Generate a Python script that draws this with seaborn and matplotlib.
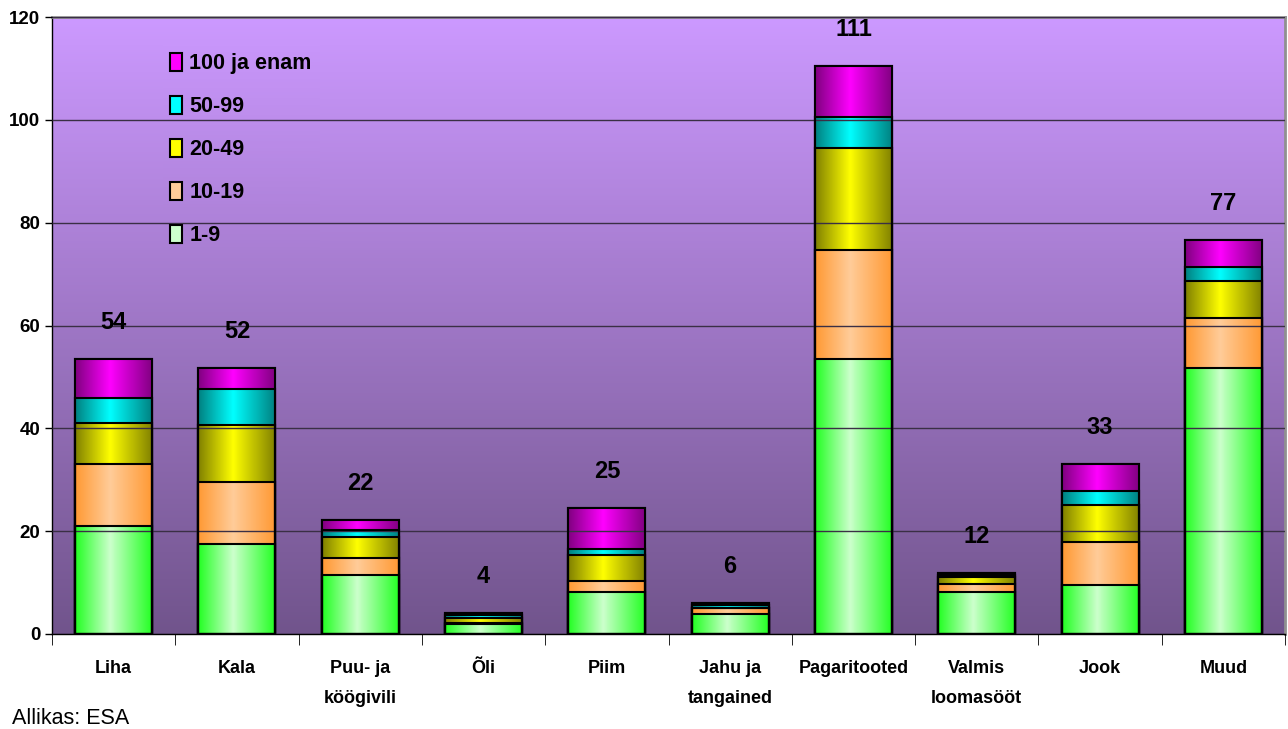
import numpy as np
import pandas as pd
import matplotlib
matplotlib.use("Agg")
import matplotlib.pyplot as plt
import seaborn as sns
from matplotlib.colors import LinearSegmentedColormap
from matplotlib.patches import Patch

# data (number of enterprises by size class)
categories = ["Liha", "Kala", "Puu- ja\nköögivili", "Õli", "Piim", "Jahu ja\ntangained",
              "Pagaritooted", "Valmis\nloomasööt", "Jook", "Muud"]
size_classes = ["1-9", "10-19", "20-49", "50-99", "100 ja enam"]
s_1_9 = [21.0, 17.5, 11.4, 1.9, 8.2, 3.9, 53.4, 8.2, 9.5, 51.8]
s_10_19 = [12.0, 12.0, 3.3, 0.2, 2.1, 1.1, 21.2, 1.6, 8.4, 9.6]
s_20_49 = [8.0, 11.1, 4.2, 1.0, 5.15, 0.1, 19.9, 1.2, 7.2, 7.2]
s_50_99 = [4.9, 7.1, 1.35, 0.6, 1.15, 0.6, 6.0, 0.5, 2.8, 2.8]
s_100 = [7.5, 4.0, 1.95, 0.3, 8.0, 0.3, 10.0, 0.4, 5.2, 5.3]
total_labels = [54, 52, 22, 4, 25, 6, 111, 12, 33, 77]

# (edge colour, centre colour) for the bar shading
shades = {
    "1-9": ("#22ff22", "#ccffcc"),
    "10-19": ("#ff9933", "#ffcc99"),
    "20-49": ("#808000", "#ffff00"),
    "50-99": ("#008080", "#00ffff"),
    "100 ja enam": ("#800080", "#ff00ff"),
}
legend_colors = {"1-9": "#ccffcc", "10-19": "#ffcc99", "20-49": "#ffff00",
                 "50-99": "#00ffff", "100 ja enam": "#ff00ff"}

df = pd.DataFrame({"kat": categories, "1-9": s_1_9, "10-19": s_10_19, "20-49": s_20_49,
                   "50-99": s_50_99, "100 ja enam": s_100})
cum = df[size_classes].cumsum(axis=1)

sns.set_style("white")
plt.rcParams["font.family"] = ["Liberation Sans", "DejaVu Sans"]
for k in ["text.color", "axes.labelcolor", "xtick.color", "ytick.color"]:
    plt.rcParams[k] = "black"

fig = plt.figure(figsize=(12.88, 7.29), dpi=100)
ax = fig.add_axes([52 / 1288, 95 / 729, 1233 / 1288, 617 / 729])

# background gradient
bg = LinearSegmentedColormap.from_list("bg", ["#71548c", "#cc99ff"])
ax.imshow(np.linspace(0, 1, 256).reshape(-1, 1), cmap=bg, aspect="auto", vmin=0, vmax=1,
          extent=[0, 1, 0, 1], transform=ax.transAxes, zorder=0, origin="lower")
# same gradient again behind the legend, hiding the grid lines there
ly0, ly1 = 0.622, 0.963
ax.imshow(np.linspace(ly0, ly1, 64).reshape(-1, 1), cmap=bg, aspect="auto", vmin=0, vmax=1,
          extent=[0.09, 0.217, ly0, ly1], transform=ax.transAxes, zorder=1.5, origin="lower")

# stacked bars: draw cumulative heights from the top class downward
for cls in size_classes[::-1]:
    n0 = len(ax.patches)
    sns.barplot(x=df["kat"], y=cum[cls], color=legend_colors[cls], width=0.625,
                edgecolor="black", linewidth=1.5, ax=ax, zorder=2)
    edge, centre = shades[cls]
    cmap = LinearSegmentedColormap.from_list(cls, [(0, edge), (0.45, centre), (1, edge)])
    for p in ax.patches[n0:]:
        x0, y0 = p.get_x(), p.get_y()
        w, h = p.get_width(), p.get_height()
        im = ax.imshow(np.linspace(0, 1, 128).reshape(1, -1), cmap=cmap, aspect="auto",
                       extent=[x0, x0 + w, y0, y0 + h], zorder=2.5)
        im.set_clip_path(p)
        ax.add_patch(plt.Rectangle((x0, y0), w, h, fill=False, edgecolor="black",
                                   linewidth=1.5, zorder=3))

for i, t in enumerate(total_labels):
    ax.annotate(str(t), (i, cum["100 ja enam"][i]), xytext=(0, 18), textcoords="offset points",
                ha="center", va="bottom", fontsize=17, fontweight="bold", color="black")

ax.set_xlim(-0.5, 9.5)
ax.set_ylim(0, 120)
ax.set_yticks(range(0, 121, 20))
ax.yaxis.grid(True, color="#3a2f45", linewidth=1)
ax.set_axisbelow(False)
for gl in ax.get_ygridlines():
    gl.set_zorder(1)
ax.tick_params(axis="y", labelsize=13.5, length=5, left=True, direction="out", width=1)
for lbl in ax.get_yticklabels():
    lbl.set_fontweight("bold")

ax.set_xticks(np.arange(10))
ax.set_xticklabels(categories, fontsize=13, fontweight="bold", linespacing=2.0, va="top")
ax.tick_params(axis="x", length=0, pad=19)
ax.set_xticks(np.arange(-0.5, 10, 1), minor=True)
ax.tick_params(axis="x", which="minor", length=8, bottom=True, color="black")
ax.set_xlabel("")
ax.set_ylabel("")

for s in ["top", "right"]:
    ax.spines[s].set_color("#909090")
    ax.spines[s].set_linewidth(2)
for s in ["left", "bottom"]:
    ax.spines[s].set_color("black")
    ax.spines[s].set_linewidth(1)

handles = [Patch(facecolor=legend_colors[c], edgecolor="black", linewidth=1.5)
           for c in size_classes[::-1]]
leg = ax.legend(handles, size_classes[::-1], loc="upper left", bbox_to_anchor=(0.0957, 0.941),
                frameon=False, fontsize=15.5, handlelength=0.55, handleheight=0.85,
                handletextpad=0.35, labelspacing=1.02, borderpad=0, borderaxespad=0)
leg.set_zorder(5)
for t in leg.get_texts():
    t.set_fontweight("bold")

fig.text(12 / 1288, 1 - 718 / 729, "Allikas: ESA", fontsize=15.5, va="center", ha="left")

fig.savefig("out.png", dpi=100)
